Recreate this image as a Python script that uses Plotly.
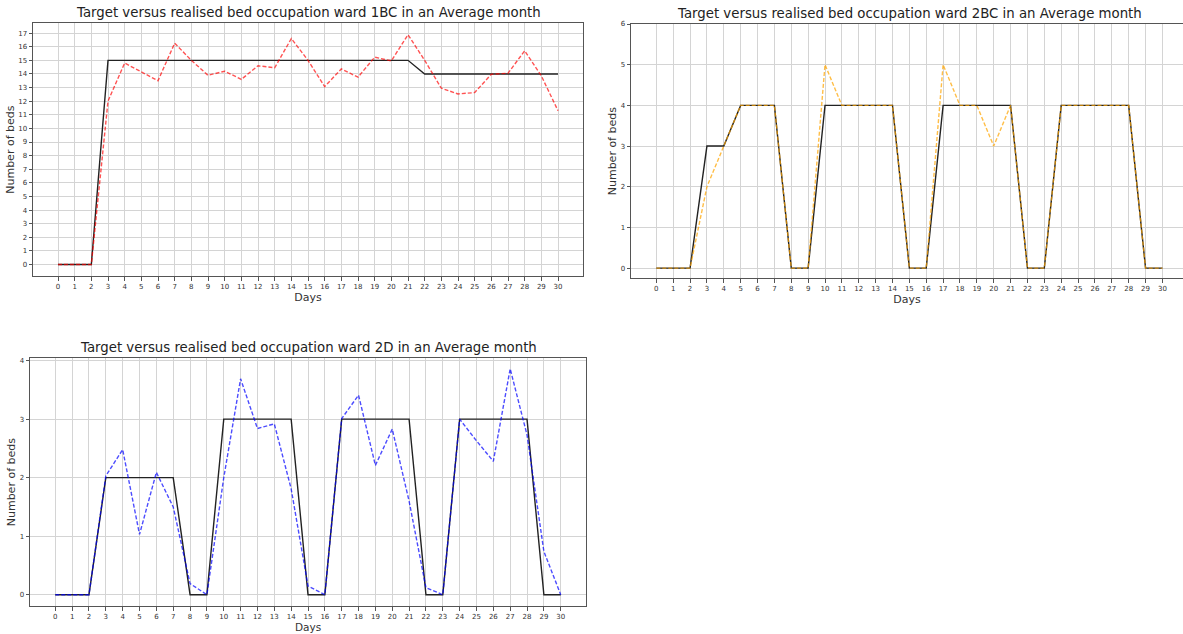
import plotly.graph_objects as go

days = list(range(31))

target_1bc = [0, 0, 0, 15, 15, 15, 15, 15, 15, 15, 15, 15, 15, 15, 15, 15,
              15, 15, 15, 15, 15, 15, 14, 14, 14, 14, 14, 14, 14, 14, 14]
real_1bc = [0, 0, 0, 12.0, 14.8, 14.15, 13.5, 16.26, 15.0, 13.9, 14.2, 13.6,
            14.6, 14.45, 16.6, 15.0, 13.07, 14.37, 13.76, 15.23, 14.96, 16.88,
            15.0, 12.95, 12.53, 12.63, 13.98, 14.05, 15.7, 13.86, 11.3]

target_2bc = [0, 0, 0, 3, 3, 4, 4, 4, 0, 0, 4, 4, 4, 4, 4, 0,
              0, 4, 4, 4, 4, 4, 0, 0, 4, 4, 4, 4, 4, 0, 0]
real_2bc = [0, 0, 0, 2, 3, 4, 4, 4, 0, 0, 5, 4, 4, 4, 4, 0,
            0, 5, 4, 4, 3, 4, 0, 0, 4, 4, 4, 4, 4, 0, 0]

target_2d = [0, 0, 0, 2, 2, 2, 2, 2, 0, 0, 3, 3, 3, 3, 3, 0,
             0, 3, 3, 3, 3, 3, 0, 0, 3, 3, 3, 3, 3, 0, 0]
real_2d = [0, 0, 0, 2.03, 2.48, 1.03, 2.09, 1.5, 0.19, 0, 2.0, 3.69, 2.84,
           2.92, 1.81, 0.15, 0, 3.01, 3.41, 2.21, 2.83, 1.6, 0.12, 0, 3.0,
           2.63, 2.28, 3.86, 2.73, 0.74, 0]

titles = ["Target versus realised bed occupation ward 1BC in an Average month",
          "Target versus realised bed occupation ward 2BC in an Average month",
          "Target versus realised bed occupation ward 2D in an Average month"]
y_ticks = [list(range(0, 18)), list(range(0, 7)), list(range(0, 5))]

W, H = 1183, 634
# pixel boxes of plot areas: (left, right, top, bottom)
boxes = [(33, 583, 23.3, 276), (631, 1183, 24, 278.3), (30, 586, 358.3, 606)]
title_centers = [308, 909, 308]
xranges = [[-1.5, 31.5], [-1.5, 31.22], [-1.5, 31.5]]
yranges = [[-0.844, 17.72], [-0.25, 6.0], [-0.193, 4.04]]
colors = ["rgba(255,0,0,0.68)", "rgba(255,165,0,0.72)", "rgba(0,0,255,0.70)"]
targets = [target_1bc, target_2bc, target_2d]
reals = [real_1bc, real_2bc, real_2d]

fig = go.Figure()
layout = dict(width=W, height=H, margin=dict(l=0, r=0, t=0, b=0),
              paper_bgcolor="white", plot_bgcolor="white", showlegend=False,
              font=dict(family="DejaVu Sans", color="#333"))
annotations = []
for i in range(3):
    l, r, t, b = boxes[i]
    xa = "xaxis" if i == 0 else f"xaxis{i+1}"
    ya = "yaxis" if i == 0 else f"yaxis{i+1}"
    xref = "x" if i == 0 else f"x{i+1}"
    yref = "y" if i == 0 else f"y{i+1}"
    layout[xa] = dict(domain=[l / W, r / W], range=xranges[i], anchor=yref,
                      tickmode="array", tickvals=days, ticktext=[str(d) for d in days],
                      showgrid=True, gridcolor="#d4d4d4", gridwidth=1, zeroline=False,
                      showline=True, mirror=True, linecolor="#555", linewidth=1,
                      ticks="outside", ticklen=3.5, tickcolor="#555",
                      tickfont=dict(size=7, color="#333"),
                      automargin=False)
    if i < 2:
        layout[xa]["title"] = dict(text="Days", font=dict(size=11, color="#333"), standoff=2)
    layout[ya] = dict(domain=[1 - b / H, 1 - t / H], range=yranges[i], anchor=xref,
                      tickmode="array", tickvals=y_ticks[i],
                      showgrid=True, gridcolor="#d4d4d4", gridwidth=1, zeroline=False,
                      showline=True, mirror=True, linecolor="#555", linewidth=1,
                      ticks="outside", ticklen=3.5, tickcolor="#555",
                      tickfont=dict(size=7, color="#333"),
                      title=dict(text="Number of beds", font=dict(size=11, color="#333"), standoff=1),
                      automargin=False)
    fig.add_trace(go.Scatter(x=days, y=targets[i], mode="lines", xaxis=xref, yaxis=yref,
                             line=dict(color="#222", width=1.4)))
    fig.add_trace(go.Scatter(x=days, y=reals[i], mode="lines", xaxis=xref, yaxis=yref,
                             line=dict(color=colors[i], width=1.4, dash="4px,2px")))
    annotations.append(dict(text=titles[i], x=title_centers[i] / W, y=1 - (t - 1) / H,
                            xref="paper", yref="paper",
                            xanchor="center", yanchor="bottom", showarrow=False,
                            font=dict(size=13.3, color="#222")))
# bottom subplot x-axis title
annotations.append(dict(text="Days", x=308 / W, y=0.0, xref="paper", yref="paper",
                        xanchor="center", yanchor="bottom", showarrow=False, borderpad=0,
                        font=dict(size=10.5, color="#333")))
layout["annotations"] = annotations
fig.update_layout(**layout)
fig.write_html("out.html")
